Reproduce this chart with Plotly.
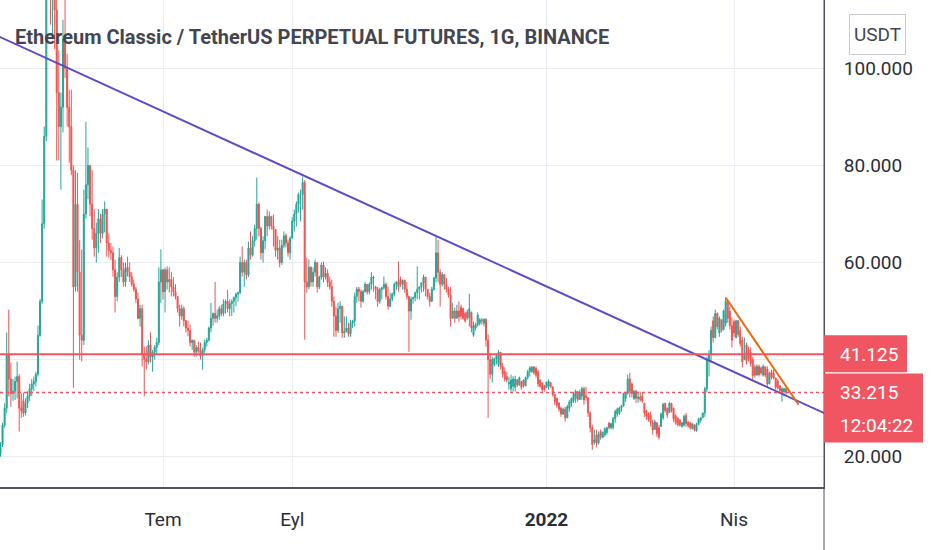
import pandas as pd
import plotly.graph_objs as go

# ETC/USDT perpetual, 1 day candles
start_day = '2021-04-14'

opens = [
    20.5, 22.5, 26.5, 30.0, 41.0, 36.0, 33.0, 33.5, 35.5, 36.5,
    30.0, 31.5, 29.0, 31.0, 32.5, 34.0, 35.0, 35.5, 37.0, 45.0,
    52.0, 68.0, 86.0, 125.0, 150.0, 118.0, 128.0, 112.0, 95.0, 88.0,
    92.0, 106.0, 100.0, 92.0, 88.0, 79.0, 55.0, 72.0, 58.0, 45.0,
    44.0, 70.0, 76.0, 80.0, 72.0, 67.0, 63.0, 66.0, 69.0, 66.0,
    70.0, 71.0, 64.0, 62.5, 62.0, 58.5, 53.0, 57.0, 61.0, 58.5,
    56.0, 59.0, 58.0, 57.0, 55.5, 54.5, 52.5, 48.5, 50.5, 41.0,
    40.0, 39.5, 43.0, 40.5, 41.5, 42.5, 43.5, 56.0, 58.5, 54.0,
    58.5, 56.0, 56.5, 55.0, 54.0, 53.0, 50.5, 49.0, 50.5, 48.0,
    46.5, 46.0, 43.5, 44.0, 41.5, 42.5, 41.8, 40.8, 42.0, 43.5,
    44.0, 46.5, 48.5, 49.5, 48.5, 49.0, 50.5, 49.5, 51.5, 52.0,
    50.5, 51.5, 52.0, 52.8, 53.5, 53.8, 60.0, 58.0, 60.0, 57.5,
    63.0, 61.5, 64.5, 67.0, 72.0, 67.0, 62.0, 64.5, 69.5, 67.5,
    69.5, 67.5, 66.8, 62.5, 63.0, 60.0, 63.5, 65.5, 64.0, 62.0,
    65.0, 68.5, 70.0, 72.0, 74.0, 74.0, 76.5, 56.0, 55.0, 59.0,
    56.0, 58.0, 60.0, 55.0,
    57.0, 59.5, 57.0, 57.8, 56.0, 55.0, 52.0, 49.0, 46.0, 50.5,
    51.0, 45.5, 45.8, 46.5, 45.3, 47.5, 48.0, 53.0, 54.5, 54.0,
    52.0, 54.0, 55.5, 54.0, 55.5, 57.0, 55.0, 54.5, 52.0, 54.5,
    54.8, 55.5, 53.0, 51.0, 52.5, 53.5, 55.5, 56.0, 56.5, 55.5,
    56.3, 54.5, 53.0, 50.0, 52.5, 52.8, 53.8, 54.5, 55.0, 55.8,
    57.0, 54.5, 53.0, 52.0, 54.5, 56.8, 62.0, 58.0, 55.5, 57.5,
    55.5, 54.5, 53.3, 48.5, 50.0, 48.5, 50.0, 50.8, 50.5, 49.5,
    49.8, 48.6, 49.7, 45.0, 46.5, 47.2,
    47.5, 48.2, 47.5, 48.3, 44.0, 40.0, 37.0, 39.0, 40.2, 39.0,
    41.5, 38.6, 37.5, 36.5, 35.0, 34.0, 34.5, 34.3, 35.8, 34.8,
    35.5, 35.8, 34.6, 36.3, 37.5, 37.5, 38.5, 38.2, 37.5, 35.8,
    35.2, 34.6, 34.2, 34.5, 35.3, 34.4, 32.8, 32.0, 31.0, 30.0,
    28.8, 29.8, 28.0, 30.0, 31.0, 31.5, 32.0, 33.4, 31.8, 32.5,
    34.0, 32.5, 32.2, 29.0, 26.0, 23.0, 24.5, 22.8, 25.2, 24.0,
    24.5, 25.0, 27.0, 26.0, 26.0, 27.8, 28.8, 29.0, 30.0, 30.5,
    32.0, 33.0, 36.0, 35.0, 32.0, 33.5, 32.0,
    32.3, 32.5, 31.0, 29.5, 29.0, 28.5, 27.0, 25.6, 27.0, 26.0,
    26.2, 28.0, 31.0, 30.0, 29.1, 31.0, 30.0, 28.5, 28.0, 27.6,
    26.2, 26.5, 28.5, 27.2, 27.0, 25.8, 26.6, 25.3, 26.6, 27.5,
    28.0, 29.0, 34.0, 40.0, 41.0, 48.0, 44.5, 49.5, 45.5, 48.2,
    46.2, 47.5, 52.0, 50.0, 47.0, 47.8, 44.5, 48.0, 46.0, 44.0,
    40.0, 43.0, 42.0, 41.5, 40.0, 38.5, 36.8, 38.6, 38.3, 36.8,
    38.5, 38.0, 35.0, 37.5, 37.2, 36.2, 35.6, 34.6, 33.0, 33.4, 34.0,
]

highs = [
    23.0, 27.0, 31.0, 45.6, 50.3, 39.4, 36.0, 36.5, 39.6, 37.0,
    33.0, 33.2, 32.0, 33.5, 35.0, 36.0, 36.5, 37.5, 47.0, 52.5,
    73.0, 88.0, 130.0, 176.0, 160.0, 135.0, 132.0, 122.0, 103.7, 95.0,
    110.0, 115.0, 103.0, 95.6, 95.6, 80.0, 79.0, 78.5, 64.6, 62.7,
    75.0, 89.0, 83.7, 80.0, 79.0, 71.0, 68.2, 71.0, 70.0, 71.0,
    72.6, 71.0, 66.0, 64.0, 63.3, 60.6, 58.0, 63.0, 61.5, 60.0,
    60.0, 61.2, 60.0, 58.0, 56.5, 55.0, 53.8, 51.3, 51.3, 42.7,
    42.7, 44.0, 45.6, 42.0, 43.0, 44.5, 59.0, 62.7, 58.6, 59.0,
    59.2, 59.0, 58.1, 57.0, 55.5, 53.0, 51.3, 51.3, 51.0, 48.2,
    48.0, 47.2, 44.1, 44.0, 43.0, 43.7, 43.5, 42.5, 44.1, 44.5,
    46.8, 51.7, 49.7, 56.0, 50.3, 51.0, 51.3, 52.4, 52.4, 54.4,
    52.4, 52.4, 53.0, 53.8, 54.0, 61.2, 63.3, 60.6, 60.6, 64.3,
    66.4, 65.4, 67.8, 77.5, 72.4, 67.4, 65.4, 69.5, 70.9, 70.5,
    69.5, 69.9, 66.8, 65.4, 64.7, 64.7, 66.4, 66.0, 64.7, 65.4,
    69.3, 70.9, 72.6, 74.4, 75.0, 77.7, 77.0, 61.0, 60.6, 59.2,
    59.0, 60.6, 60.0, 57.3,
    60.0, 60.2, 59.0, 58.6, 57.1, 56.5, 53.0, 50.9, 51.7, 52.0,
    51.0, 48.9, 48.9, 47.6, 48.2, 48.2, 53.8, 55.0, 55.0, 54.5,
    54.4, 56.0, 55.5, 55.9, 58.0, 57.3, 55.2, 55.0, 54.8, 55.0,
    57.1, 55.9, 55.0, 53.8, 53.8, 55.9, 56.1, 60.2, 57.1, 56.5,
    56.5, 56.0, 53.2, 53.0, 53.0, 54.0, 59.2, 55.0, 55.9, 57.5,
    57.0, 54.5, 53.8, 55.0, 57.1, 65.4, 64.7, 58.6, 58.0, 57.5,
    56.8, 55.0, 55.0, 51.7, 50.7, 51.3, 52.0, 51.3, 50.7, 49.9,
    50.3, 53.6, 49.9, 47.8, 47.6, 49.7,
    48.6, 48.6, 48.5, 48.5, 45.2, 41.4, 40.6, 40.4, 41.0, 42.0,
    41.6, 39.4, 38.4, 37.5, 36.5, 36.9, 36.6, 36.7, 36.0, 36.5,
    35.6, 35.9, 36.5, 37.9, 38.6, 38.6, 38.6, 38.6, 37.9, 35.9,
    35.3, 34.8, 35.5, 35.9, 35.3, 34.4, 32.8, 32.2, 31.3, 30.3,
    30.1, 30.3, 30.7, 31.7, 32.2, 33.4, 33.8, 33.4, 33.8, 34.4,
    34.4, 34.4, 32.2, 29.3, 26.6, 25.6, 25.6, 25.2, 25.6, 25.2,
    26.0, 26.2, 27.0, 27.0, 28.2, 29.7, 30.1, 30.3, 30.7, 33.2,
    33.4, 36.9, 37.3, 35.3, 33.8, 33.8, 33.4,
    33.4, 33.2, 31.1, 29.7, 29.1, 29.3, 27.6, 27.6, 27.0, 26.6,
    29.1, 31.1, 31.1, 30.1, 31.3, 31.1, 30.1, 28.7, 28.0, 27.6,
    27.2, 28.7, 29.0, 27.2, 27.2, 27.0, 26.6, 27.0, 28.0, 28.2,
    29.1, 34.4, 40.6, 42.0, 46.8, 48.9, 50.3, 49.7, 48.9, 48.3,
    50.3, 52.8, 52.4, 50.9, 48.7, 48.2, 48.2, 48.2, 46.8, 44.7,
    44.5, 43.5, 42.7, 42.5, 40.6, 39.0, 39.0, 39.0, 38.6, 39.0,
    38.6, 38.6, 37.5, 37.9, 37.9, 36.3, 36.0, 34.8, 34.4, 34.2, 34.2,
]

lows = [
    20.0, 22.0, 26.0, 29.0, 32.4, 30.3, 31.5, 31.7, 32.0, 25.2,
    28.0, 28.2, 28.5, 30.0, 31.5, 32.5, 33.5, 34.5, 36.5, 44.7,
    51.5, 67.0, 85.0, 120.0, 109.0, 106.0, 104.0, 81.0, 81.0, 75.0,
    86.8, 98.0, 88.0, 80.6, 78.0, 34.2, 54.0, 54.0, 40.0, 39.6,
    43.0, 69.0, 73.0, 69.5, 64.7, 61.2, 60.0, 62.0, 64.0, 65.0,
    66.2, 61.2, 61.0, 60.5, 57.1, 49.7, 52.0, 56.0, 57.0, 55.0,
    55.0, 57.1, 56.0, 55.0, 54.0, 51.7, 48.3, 46.8, 38.6, 32.4,
    38.0, 39.0, 39.4, 37.5, 40.0, 41.0, 43.0, 51.7, 52.4, 49.7,
    54.4, 53.8, 53.0, 53.0, 52.4, 49.7, 46.8, 48.2, 46.8, 45.6,
    44.8, 42.7, 42.0, 40.6, 40.6, 41.4, 40.0, 37.9, 41.4, 42.7,
    43.7, 45.6, 47.0, 47.6, 47.6, 48.2, 48.9, 48.9, 49.5, 49.7,
    48.9, 49.0, 49.7, 51.0, 52.0, 53.5, 57.1, 55.0, 56.5, 57.0,
    60.6, 61.2, 63.3, 64.7, 65.4, 60.6, 60.0, 62.7, 65.4, 66.8,
    66.8, 63.3, 61.2, 60.6, 59.0, 59.5, 63.0, 63.1, 61.2, 60.6,
    65.0, 66.4, 67.4, 70.3, 68.5, 70.9, 44.1, 53.8, 54.5, 55.0,
    55.0, 57.1, 53.8, 54.5,
    56.5, 55.9, 56.5, 55.0, 54.4, 50.9, 44.7, 44.7, 45.5, 47.6,
    44.5, 44.5, 45.6, 44.7, 44.7, 46.5, 46.8, 51.7, 52.0, 50.7,
    51.7, 53.8, 53.4, 53.4, 54.4, 54.0, 52.4, 50.9, 51.5, 52.4,
    54.4, 52.4, 50.3, 50.8, 52.0, 53.0, 54.4, 54.0, 55.0, 54.4,
    53.8, 52.4, 41.6, 48.2, 51.5, 52.0, 52.4, 52.4, 53.8, 54.0,
    53.0, 52.4, 50.9, 52.0, 54.2, 55.9, 55.9, 50.9, 55.0, 54.4,
    53.8, 52.8, 46.8, 48.5, 47.6, 48.5, 47.8, 48.3, 48.2, 47.6,
    48.2, 46.8, 45.6, 44.7, 46.0, 46.8,
    47.0, 47.2, 46.8, 42.7, 28.0, 36.0, 35.3, 38.6, 39.0, 38.5,
    38.0, 36.3, 35.5, 35.3, 33.8, 33.4, 33.4, 33.4, 34.4, 34.6,
    33.8, 34.2, 34.5, 35.9, 36.5, 37.3, 36.9, 36.3, 34.4, 34.2,
    33.4, 33.4, 34.2, 33.8, 34.2, 32.4, 30.7, 30.1, 29.3, 28.2,
    28.6, 27.2, 28.0, 29.3, 30.3, 31.1, 31.1, 31.3, 31.7, 31.7,
    30.7, 31.5, 28.2, 25.0, 21.4, 22.5, 21.9, 22.5, 23.5, 23.8,
    24.1, 24.5, 25.6, 25.6, 25.6, 27.0, 28.2, 28.6, 29.3, 30.3,
    31.3, 32.8, 32.2, 32.2, 31.7, 31.1, 31.1,
    31.3, 31.1, 28.2, 27.6, 27.2, 26.2, 24.5, 25.6, 24.1, 23.5,
    26.2, 27.6, 29.1, 28.0, 29.1, 29.1, 27.2, 26.6, 26.2, 26.2,
    26.0, 26.2, 26.2, 26.0, 25.6, 25.6, 25.2, 25.2, 26.6, 27.0,
    28.0, 28.2, 33.2, 36.5, 39.4, 43.5, 44.5, 46.2, 44.7, 45.6,
    46.0, 46.8, 47.6, 46.2, 42.5, 44.7, 44.5, 44.7, 42.7, 38.4,
    40.0, 39.0, 39.6, 38.6, 35.9, 36.3, 36.8, 36.5, 36.9, 36.5,
    36.3, 34.2, 35.0, 35.9, 35.9, 33.8, 33.8, 33.2, 31.3, 32.4, 32.8,
]

closes = [
    22.5, 26.5, 30.0, 41.0, 36.0, 33.0, 33.5, 35.5, 36.5, 30.0,
    29.5, 29.0, 31.0, 32.5, 34.0, 35.0, 35.5, 37.0, 45.0, 52.0,
    68.0, 86.0, 125.0, 150.0, 118.0, 128.0, 112.0, 95.0, 88.0, 92.0,
    106.0, 100.0, 92.0, 88.0, 79.0, 55.0, 72.0, 58.0, 45.0, 44.0,
    70.0, 76.0, 80.0, 72.0, 67.0, 63.0, 66.0, 69.0, 66.0, 70.0,
    71.0, 64.0, 62.5, 62.0, 58.5, 53.0, 57.0, 61.0, 58.5, 56.0,
    59.0, 58.0, 57.0, 55.5, 54.5, 52.5, 48.5, 50.5, 41.0, 40.0,
    39.5, 43.0, 40.5, 41.5, 42.5, 43.5, 56.0, 58.5, 54.0, 58.5,
    56.0, 56.5, 55.0, 54.0, 53.0, 50.5, 49.0, 50.5, 48.0, 46.5,
    46.0, 43.5, 44.0, 41.5, 42.5, 41.8, 40.8, 42.0, 43.5, 44.0,
    46.5, 48.5, 49.5, 48.5, 49.0, 50.5, 49.5, 51.5, 52.0, 50.5,
    51.5, 52.0, 52.8, 53.5, 53.8, 60.0, 58.0, 60.0, 57.5, 63.0,
    61.5, 64.5, 67.0, 72.0, 67.0, 62.0, 64.5, 69.5, 67.5, 69.5,
    67.5, 66.8, 62.5, 63.0, 60.0, 63.5, 65.5, 64.0, 62.0, 65.0,
    68.5, 70.0, 72.0, 74.0, 74.0, 76.5, 56.0, 55.0, 59.0, 56.0,
    58.0, 60.0, 55.0, 57.0,
    59.5, 57.0, 57.8, 56.0, 55.0, 52.0, 49.0, 46.0, 50.5, 51.0,
    45.5, 45.8, 46.5, 45.3, 47.5, 48.0, 53.0, 54.5, 54.0, 52.0,
    54.0, 55.5, 54.0, 55.5, 57.0, 56.8, 54.5, 52.0, 54.5, 54.8,
    55.5, 53.0, 51.0, 52.5, 53.5, 55.5, 56.0, 55.0, 55.5, 56.3,
    54.5, 53.0, 50.0, 52.5, 52.8, 53.8, 54.5, 55.0, 55.8, 57.0,
    54.5, 53.0, 52.0, 54.5, 56.8, 62.0, 58.0, 55.5, 57.5, 55.5,
    54.5, 53.3, 48.5, 50.0, 48.5, 50.0, 48.8, 49.0, 48.5, 48.0,
    48.6, 50.5, 46.5, 47.0, 47.2, 49.2,
    48.2, 48.0, 48.3, 44.0, 40.0, 37.0, 40.0, 40.2, 40.8, 41.5,
    38.6, 37.0, 36.0, 35.8, 35.3, 35.8, 36.0, 36.0, 34.8, 36.3,
    34.3, 34.6, 36.3, 37.5, 38.3, 38.5, 37.3, 36.8, 35.0, 34.5,
    33.8, 33.8, 35.3, 35.6, 34.4, 32.8, 31.3, 30.6, 29.8, 28.8,
    29.8, 28.0, 30.3, 31.3, 32.0, 33.0, 33.5, 31.8, 33.3, 34.0,
    31.7, 32.2, 29.0, 26.0, 22.5, 23.5, 22.8, 24.7, 24.0, 25.0,
    25.8, 26.0, 26.0, 26.8, 27.8, 29.3, 29.8, 30.0, 30.5, 33.0,
    33.2, 36.0, 33.5, 33.0, 33.5, 32.0, 32.3,
    31.8, 31.5, 29.0, 28.3, 27.6, 27.0, 25.5, 27.2, 24.8, 24.0,
    28.8, 30.8, 29.5, 28.6, 31.0, 29.5, 27.8, 27.0, 26.6, 26.5,
    27.0, 28.3, 26.8, 26.4, 26.0, 26.8, 25.6, 26.6, 27.8, 28.0,
    29.0, 34.0, 40.0, 41.0, 46.0, 44.5, 49.5, 46.8, 48.5, 46.0,
    50.0, 52.0, 48.5, 47.0, 44.0, 45.5, 48.0, 45.2, 43.3, 39.5,
    40.8, 39.7, 40.2, 39.2, 36.7, 36.8, 38.6, 36.9, 37.2, 38.6,
    36.8, 35.0, 37.2, 36.3, 36.2, 34.3, 34.2, 33.6, 34.0, 34.0, 33.215,
]

# drawings on the chart
trend_dates = ['2021-04-13', '2022-05-15']
trend_prices = [106.6, 28.84]
wedge_dates = ['2022-03-28', '2022-05-02']
wedge_prices = [52.8, 30.7]
level_price = 41.125
last_price = 33.215
countdown = '12:04:22'

tick_dates = ['2021-07-01', '2021-09-01', '2022-01-01', '2022-04-01']
tick_names = ['Tem', 'Eyl', '<b>2022</b>', 'Nis']
price_ticks = [20, 40, 60, 80, 100]
hidden_ticks = [40]  # sits behind the 41.125 label on the scale

title = 'Ethereum Classic / TetherUS PERPETUAL FUTURES, 1G, BINANCE'

print(len(opens), len(highs), len(lows), len(closes))
dates = pd.date_range(start_day, periods=len(closes), freq='D')
price_labels = ['' if p in hidden_ticks else '%.3f' % p for p in price_ticks]

FONT = 'Roboto, Open Sans, sans-serif'
UP = '#26a69a'
DOWN = '#ef5350'
RED = '#f05561'
GRID = '#e9edf3'
AXIS = '#50535e'

candles = go.Candlestick(
    x=dates, open=opens, high=highs, low=lows, close=closes,
    increasing=dict(line=dict(color=UP, width=1), fillcolor=UP),
    decreasing=dict(line=dict(color=DOWN, width=1), fillcolor=DOWN),
    whiskerwidth=0, hoverinfo='skip', showlegend=False,
)
trend = go.Scatter(x=trend_dates, y=trend_prices, mode='lines',
                   line=dict(color='#5c4bc4', width=2), hoverinfo='skip', showlegend=False)
wedge = go.Scatter(x=wedge_dates, y=wedge_prices, mode='lines',
                   line=dict(color='#ea6a10', width=2), hoverinfo='skip', showlegend=False)

shapes = [
    dict(type='line', xref='paper', x0=0, x1=1, yref='y', y0=level_price, y1=level_price,
         line=dict(color=RED, width=2)),
    dict(type='line', xref='paper', x0=0, x1=1, yref='y', y0=last_price, y1=last_price,
         line=dict(color=RED, width=1.5, dash='dot')),
    dict(type='line', xref='paper', x0=1, x1=1, yref='paper', y0=-0.13, y1=1,
         line=dict(color=AXIS, width=1)),
    # price label boxes on the scale
    dict(type='rect', xref='paper', xsizemode='pixel', xanchor=1, x0=0, x1=83,
         yref='y', ysizemode='pixel', yanchor=level_price, y0=-18, y1=19,
         fillcolor=RED, line=dict(width=0)),
    dict(type='rect', xref='paper', xsizemode='pixel', xanchor=1, x0=0, x1=99,
         yref='y', ysizemode='pixel', yanchor=last_price, y0=-50, y1=19,
         fillcolor=RED, line=dict(width=0)),
]

annotations = [
    dict(text='<b>' + title + '</b>', xref='paper', x=13 / 824, xanchor='left',
         yref='paper', y=1, yshift=-37, yanchor='middle', showarrow=False,
         font=dict(family=FONT, size=20, color='#434651')),
    dict(text='%.3f' % level_price, xref='paper', x=1, xshift=14, xanchor='left',
         yref='y', y=level_price, yanchor='middle', showarrow=False,
         font=dict(family=FONT, size=19, color='white')),
    dict(text='%.3f' % last_price, xref='paper', x=1, xshift=14, xanchor='left',
         yref='y', y=last_price, yanchor='middle', showarrow=False,
         font=dict(family=FONT, size=19, color='white')),
    dict(text=countdown, xref='paper', x=1, xshift=14, xanchor='left',
         yref='y', y=last_price, yshift=-33, yanchor='middle', showarrow=False,
         font=dict(family=FONT, size=19, color='white')),
    dict(text='USDT', xref='paper', x=1, xshift=25, xanchor='left',
         yref='paper', y=1, yshift=-14, yanchor='top', showarrow=False,
         width=49, height=33, borderpad=3, bordercolor='#c5cad3', borderwidth=1,
         bgcolor='white', font=dict(family=FONT, size=19, color='#434651')),
]

layout = go.Layout(
    width=932, height=550, autosize=False,
    margin=dict(l=0, r=108, t=0, b=63),
    paper_bgcolor='white', plot_bgcolor='white',
    showlegend=False, hovermode=False,
    font=dict(family=FONT, size=19, color='#2a2e39'),
    xaxis=dict(type='date', range=['2021-04-13 18:43', '2022-05-14 04:30'],
               tickvals=tick_dates, ticktext=tick_names, ticks='',
               ticklabelstandoff=14,
               showgrid=True, gridcolor=GRID, gridwidth=1,
               showline=True, linecolor=AXIS, linewidth=2,
               zeroline=False, rangeslider=dict(visible=False)),
    yaxis=dict(side='right', range=[13.76, 114.07],
               tickvals=price_ticks, ticktext=price_labels, ticks='',
               ticklabelstandoff=15,
               showgrid=True, gridcolor=GRID, gridwidth=1,
               showline=True, linecolor=AXIS, linewidth=1, zeroline=False),
    shapes=shapes, annotations=annotations,
)

fig = go.Figure(data=[candles, trend, wedge], layout=layout)
# the page body has an 8px default margin; drop it so the figure sits at 0,0
fig.write_html("out.html", config={'displayModeBar': False},
               post_script="document.body.style.margin='0';")
